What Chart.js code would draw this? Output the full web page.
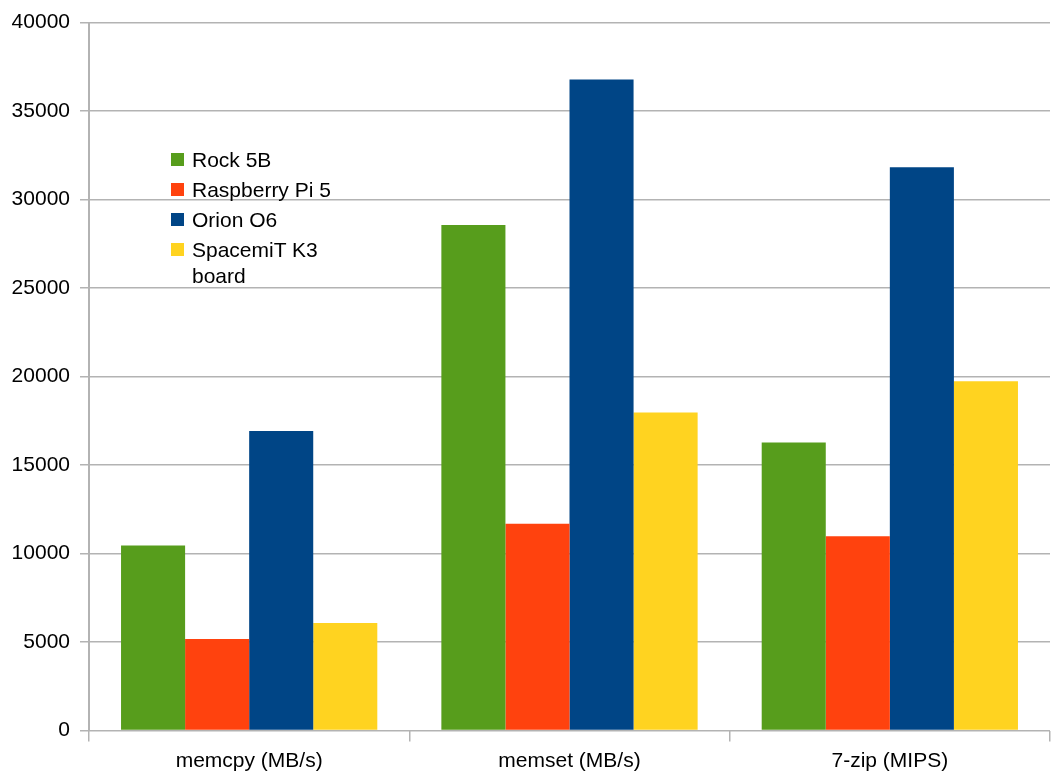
<!DOCTYPE html>
<html>
<head>
<meta charset="utf-8">
<script src="https://cdn.jsdelivr.net/npm/chart.js@4/dist/chart.umd.min.js"></script>
<style>
  html, body { margin: 0; padding: 0; background: #fff; }
  #wrap { position: relative; width: 1056px; height: 781px; }
  #legend { position: absolute; left: 171px; top: 147px; font-family: "Liberation Sans", Arial, sans-serif; font-size: 21px; color: #000; }
  .item { display: flex; align-items: flex-start; line-height: 26px; margin-bottom: 4px; }
  .sw { width: 13px; height: 13px; margin-top: 6px; margin-right: 8px; flex: none; }
  .txt { width: 150px; }
</style>
</head>
<body>
<div id="wrap">
  <canvas id="c" width="1056" height="781"></canvas>
  <div id="legend"></div>
</div>
<script>
const categories = ["memcpy (MB/s)", "memset (MB/s)", "7-zip (MIPS)"];
const seriesNames = ["Rock 5B", "Raspberry Pi 5", "Orion O6", "SpacemiT K3 board"];
const rock5b = [10450, 28560, 16280];
const raspberryPi5 = [5170, 11680, 10970];
const orionO6 = [16920, 36780, 31820];
const spacemitK3 = [6070, 17970, 19730];
const seriesColors = ["#579d1c", "#ff420e", "#004586", "#ffd320"];
const yTicks = [0, 5000, 10000, 15000, 20000, 25000, 30000, 35000, 40000];

const values = [rock5b, raspberryPi5, orionO6, spacemitK3];
const font = { family: "'Liberation Sans', Arial, sans-serif", size: 21 };

const chart = new Chart(document.getElementById('c'), {
  type: 'bar',
  data: {
    labels: categories,
    datasets: seriesNames.map((n, i) => ({
      label: n,
      data: values[i],
      backgroundColor: seriesColors[i],
      borderWidth: 0,
      categoryPercentage: 0.8,
      barPercentage: 1.0
    }))
  },
  options: {
    responsive: false,
    animation: false,
    layout: { padding: { top: 20, right: 6, left: 0, bottom: 0 } },
    plugins: { legend: { display: false }, tooltip: { enabled: false } },
    scales: {
      x: {
        grid: { offset: true, drawOnChartArea: false, color: '#b3b3b3', lineWidth: 1.5, tickLength: 11 },
        border: { display: false },
        ticks: { color: '#000', font: font, padding: 7, maxRotation: 0 },
        afterFit: (s) => { s.height = 781 - 730.5; }
      },
      y: {
        min: 0, max: 40000,
        afterBuildTicks: (s) => { s.ticks = yTicks.map(v => ({ value: v })); },
        grid: { color: '#b3b3b3', lineWidth: 1.5, tickLength: 9 },
        border: { display: true, color: '#b3b3b3', width: 2 },
        ticks: { color: '#000', font: font, padding: 10, callback: (v) => String(v) },
        afterFit: (s) => { s.width = 89; }
      }
    }
  }
});

const lg = document.getElementById('legend');
chart.data.datasets.forEach(ds => {
  const it = document.createElement('div');
  it.className = 'item';
  const sw = document.createElement('span');
  sw.className = 'sw';
  sw.style.background = ds.backgroundColor;
  const tx = document.createElement('span');
  tx.className = 'txt';
  tx.textContent = ds.label;
  it.appendChild(sw); it.appendChild(tx);
  lg.appendChild(it);
});
</script>
</body>
</html>
